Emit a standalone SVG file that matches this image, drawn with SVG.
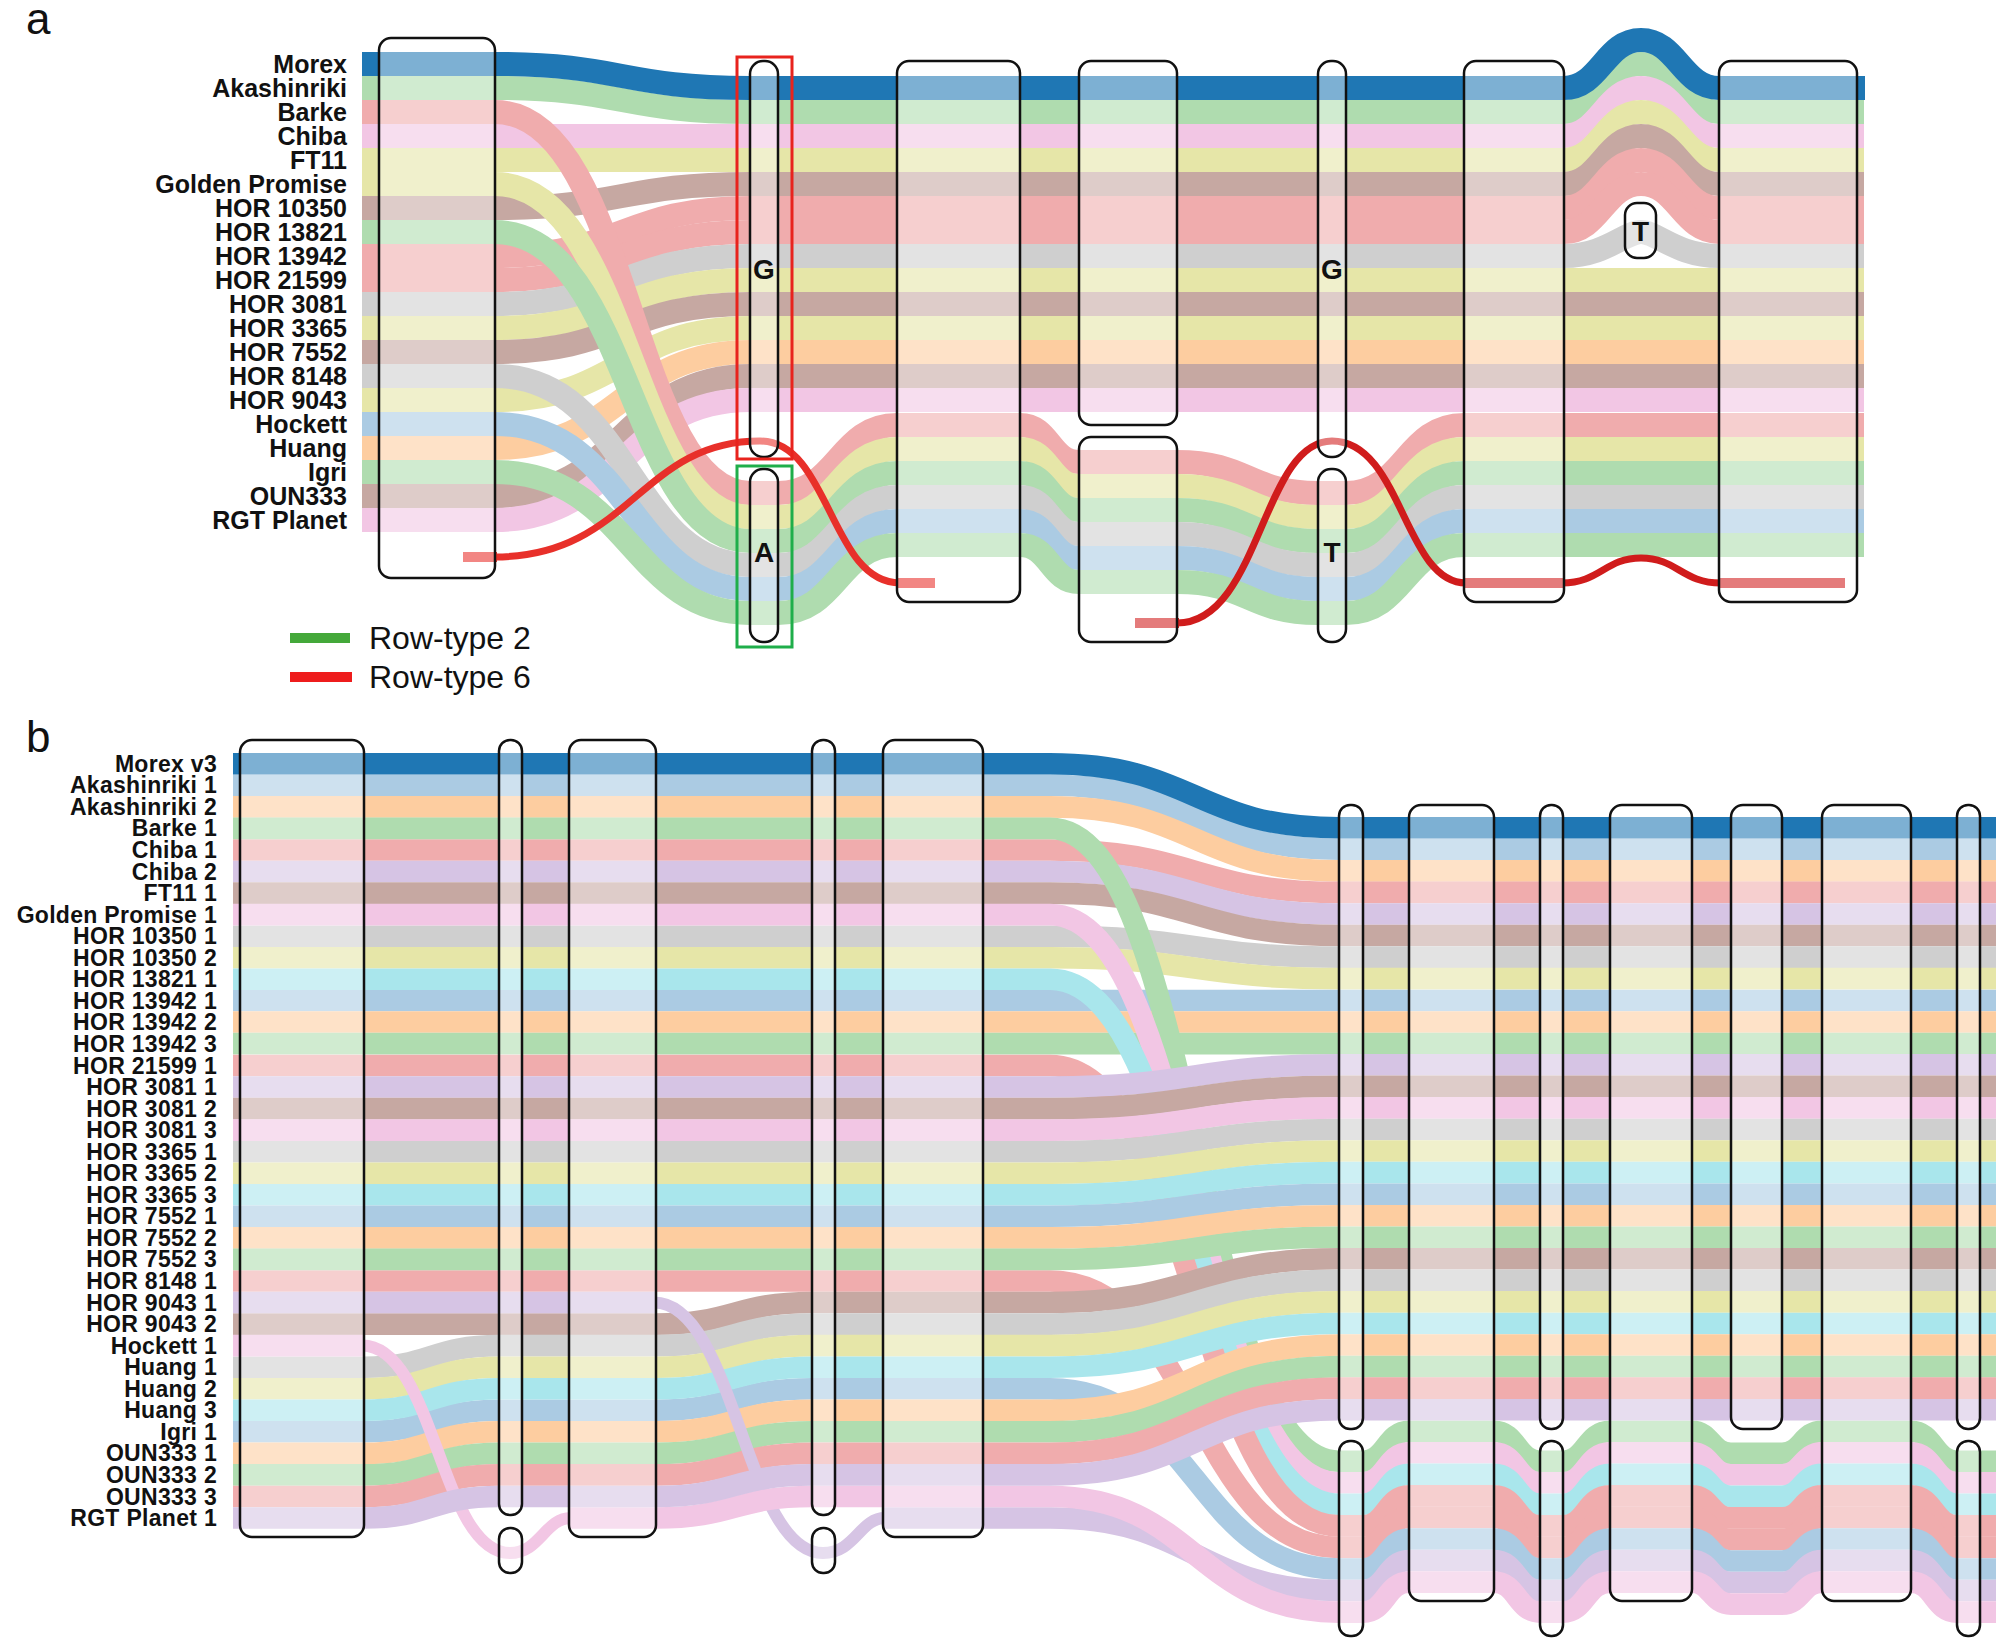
<svg xmlns="http://www.w3.org/2000/svg" width="2000" height="1645" viewBox="0 0 2000 1645">
<style>
.bd{fill:none;stroke-linecap:butt}
.wa{stroke-width:24}
.wb{stroke-width:21.6}
.th{stroke-width:12}
.box{fill:#fff;fill-opacity:.42;stroke:#111;stroke-width:2.5}
.lbl{font-family:"Liberation Sans",Arial,sans-serif;font-weight:bold;text-anchor:end;fill:#111}
.let{font-family:"Liberation Sans",Arial,sans-serif;font-weight:bold;text-anchor:middle;font-size:28px;fill:#111}
.pan{font-family:"Liberation Sans",Arial,sans-serif;font-size:44px;fill:#111}
.leg{font-family:"Liberation Sans",Arial,sans-serif;font-size:32px;fill:#111}
.c0{stroke:#1f77b4}.lb{stroke:#abcbe3}.or{stroke:#fdcda0}.gr{stroke:#afdcaf}.rd{stroke:#f0acad}.pu{stroke:#d6c4e4}.br{stroke:#c6a8a2}.pk{stroke:#f2c6e4}.gy{stroke:#cfcfcf}.ol{stroke:#e6e6a8}.cy{stroke:#a9e6ec}
.rl{fill:none;stroke-linecap:butt}
</style>
<rect x="0" y="0" width="2000" height="1645" fill="#fff"/>

<!-- ================= PANEL A ================= -->
<text class="pan" x="26" y="34">a</text>

<g id="a-connectors">
<path class="bd wa gr" d="M362,88 L495,88 C622,88 622,112 750,112 L1564,112 C1600,112 1605,64 1641,64 C1677,64 1682,112 1719,112 L1864,112"/>
<path class="bd wa pk" d="M362,136 L1564,136 C1600,136 1605,88 1641,88 C1677,88 1682,136 1719,136 L1864,136"/>
<path class="bd wa ol" d="M362,160 L1564,160 C1600,160 1605,112 1641,112 C1677,112 1682,160 1719,160 L1864,160"/>
<path class="bd wa br" d="M362,208 L495,208 C622,208 622,184 750,184 L1564,184 C1600,184 1605,136 1641,136 C1677,136 1682,184 1719,184 L1864,184"/>
<path class="bd wa rd" d="M362,256 L495,256 C622,256 622,208 750,208 L1564,208 C1600,208 1605,160 1641,160 C1677,160 1682,208 1719,208 L1864,208"/>
<path class="bd wa rd" d="M362,280 L495,280 C622,280 622,232 750,232 L1564,232 C1600,232 1605,184 1641,184 C1677,184 1682,232 1719,232 L1864,232"/>
<path class="bd wa gy" d="M362,304 L495,304 C622,304 622,256 750,256 L1564,256 C1605,256 1625,232 1641,232 C1657,232 1677,256 1719,256 L1864,256"/>
<path class="bd wa ol" d="M362,328 L495,328 C622,328 622,280 750,280 L1864,280"/>
<path class="bd wa br" d="M362,352 L495,352 C622,352 622,304 750,304 L1864,304"/>
<path class="bd wa ol" d="M362,400 L495,400 C622,400 622,328 750,328 L1864,328"/>
<path class="bd wa or" d="M362,448 L495,448 C622,448 622,352 750,352 L1864,352"/>
<path class="bd wa br" d="M362,496 L495,496 C622,496 622,376 750,376 L1864,376"/>
<path class="bd wa pk" d="M362,520 L495,520 C622,520 622,400 750,400 L1864,400"/>
<path class="bd wa rd" d="M362,112 L495,112 C630,112 630,493 750,493 L778,493 C838,493 838,425 897,425 L1020,425 C1050,425 1050,462 1079,462 L1177,462 C1248,462 1248,493 1318,493 L1346,493 C1405,493 1405,425 1464,425 L1864,425"/>
<path class="bd wa ol" d="M362,184 L495,184 C630,184 630,517 750,517 L778,517 C838,517 838,449 897,449 L1020,449 C1050,449 1050,486 1079,486 L1177,486 C1248,486 1248,517 1318,517 L1346,517 C1405,517 1405,449 1464,449 L1864,449"/>
<path class="bd wa gr" d="M362,232 L495,232 C630,232 630,541 750,541 L778,541 C838,541 838,473 897,473 L1020,473 C1050,473 1050,510 1079,510 L1177,510 C1248,510 1248,541 1318,541 L1346,541 C1405,541 1405,473 1464,473 L1864,473"/>
<path class="bd wa gy" d="M362,376 L495,376 C630,376 630,565 750,565 L778,565 C838,565 838,497 897,497 L1020,497 C1050,497 1050,534 1079,534 L1177,534 C1248,534 1248,565 1318,565 L1346,565 C1405,565 1405,497 1464,497 L1864,497"/>
<path class="bd wa lb" d="M362,424 L495,424 C630,424 630,589 750,589 L778,589 C838,589 838,521 897,521 L1020,521 C1050,521 1050,558 1079,558 L1177,558 C1248,558 1248,589 1318,589 L1346,589 C1405,589 1405,521 1464,521 L1864,521"/>
<path class="bd wa gr" d="M362,472 L495,472 C630,472 630,613 750,613 L778,613 C838,613 838,545 897,545 L1020,545 C1050,545 1050,582 1079,582 L1177,582 C1248,582 1248,613 1318,613 L1346,613 C1405,613 1405,545 1464,545 L1864,545"/>
<path class="bd wa c0" d="M362,64 L495,64 C622,64 622,88 750,88 L1564,88 C1600,88 1605,40 1641,40 C1677,40 1682,88 1719,88 L1865,88"/>
<!-- row-type 6 path -->
<path class="rl" stroke="#e8302a" stroke-width="10" d="M463,557 L497,557"/>
<path class="rl" stroke="#e8302a" stroke-width="7" d="M495,557 C630,557 640,441 760,441 C830,441 830,583 900,583"/>
<path class="rl" stroke="#e8302a" stroke-width="10" d="M897,583 L935,583"/>
<path class="rl" stroke="#d01c1c" stroke-width="10" d="M1135,623 L1179,623"/>
<path class="rl" stroke="#d01c1c" stroke-width="7" d="M1177,623 C1260,623 1262,441 1332,441 C1402,441 1404,583 1466,583"/>
<path class="rl" stroke="#d01c1c" stroke-width="10" d="M1464,583 L1564,583"/>
<path class="rl" stroke="#d01c1c" stroke-width="7" d="M1562,583 C1600,583 1605,558 1641,558 C1677,558 1682,583 1721,583"/>
<path class="rl" stroke="#d01c1c" stroke-width="10" d="M1719,583 L1845,583"/>
</g>

<g id="a-n1"><rect class="box" x="379" y="38" width="116" height="540" rx="12"/></g>
<g id="a-n2G"><rect class="box" x="750" y="61" width="28" height="396" rx="13"/><text class="let" x="764" y="279">G</text></g>
<g id="a-n2A"><rect class="box" x="750" y="469" width="28" height="173" rx="13"/><text class="let" x="764" y="562">A</text></g>
<g id="a-n3"><rect class="box" x="897" y="61" width="123" height="541" rx="12"/></g>
<g id="a-n4top"><rect class="box" x="1079" y="61" width="98" height="364" rx="12"/></g>
<g id="a-n4bot"><rect class="box" x="1079" y="437" width="98" height="205" rx="12"/></g>
<g id="a-n5G"><rect class="box" x="1318" y="61" width="28" height="396" rx="13"/><text class="let" x="1332" y="279">G</text></g>
<g id="a-n5T"><rect class="box" x="1318" y="469" width="28" height="173" rx="13"/><text class="let" x="1332" y="562">T</text></g>
<g id="a-n6"><rect class="box" x="1464" y="61" width="100" height="541" rx="12"/></g>
<g id="a-n7T"><rect class="box" x="1625" y="203" width="31" height="55" rx="12"/><text class="let" x="1640.5" y="241">T</text></g>
<g id="a-n8"><rect class="box" x="1719" y="61" width="138" height="541" rx="12"/></g>

<g id="a-highlights">
<rect x="737" y="57" width="55" height="402" fill="none" stroke="#e8231d" stroke-width="3"/>
<rect x="737" y="466" width="55" height="181" fill="none" stroke="#1fae4a" stroke-width="3"/>
</g>

<g id="a-labels" class="lbl" font-size="25">
<text x="347" y="73">Morex</text>
<text x="347" y="97">Akashinriki</text>
<text x="347" y="121">Barke</text>
<text x="347" y="145">Chiba</text>
<text x="347" y="169">FT11</text>
<text x="347" y="193">Golden Promise</text>
<text x="347" y="217">HOR 10350</text>
<text x="347" y="241">HOR 13821</text>
<text x="347" y="265">HOR 13942</text>
<text x="347" y="289">HOR 21599</text>
<text x="347" y="313">HOR 3081</text>
<text x="347" y="337">HOR 3365</text>
<text x="347" y="361">HOR 7552</text>
<text x="347" y="385">HOR 8148</text>
<text x="347" y="409">HOR 9043</text>
<text x="347" y="433">Hockett</text>
<text x="347" y="457">Huang</text>
<text x="347" y="481">Igri</text>
<text x="347" y="505">OUN333</text>
<text x="347" y="529">RGT Planet</text>
</g>

<g id="a-legend">
<line x1="290" y1="638" x2="350" y2="638" stroke="#44a83a" stroke-width="10"/>
<text class="leg" x="369" y="649">Row-type 2</text>
<line x1="290" y1="677" x2="352" y2="677" stroke="#ee1c1c" stroke-width="10"/>
<text class="leg" x="369" y="688">Row-type 6</text>
</g>

<!-- ================= PANEL B ================= -->
<text class="pan" x="26" y="752">b</text>

<g id="b-connectors">
<!-- upper rows, drawn below the crossing tracks -->
<path class="bd wb lb" d="M233,785.3 L1050,785.3 C1195,785.3 1195,849.3 1339,849.3 L1996,849.3"/>
<path class="bd wb or" d="M233,806.9 L1050,806.9 C1195,806.9 1195,870.9 1339,870.9 L1996,870.9"/>
<path class="bd wb rd" d="M233,850 L1050,850 C1195,850 1195,892.4 1339,892.4 L1996,892.4"/>
<path class="bd wb pu" d="M233,871.5 L1050,871.5 C1195,871.5 1195,914 1339,914 L1996,914"/>
<path class="bd wb br" d="M233,893.1 L1050,893.1 C1195,893.1 1195,935.5 1339,935.5 L1996,935.5"/>
<path class="bd wb gy" d="M233,936.2 L1050,936.2 C1195,936.2 1195,957.1 1339,957.1 L1996,957.1"/>
<path class="bd wb ol" d="M233,957.7 L1050,957.7 C1195,957.7 1195,978.6 1339,978.6 L1996,978.6"/>
<path class="bd wb lb" d="M233,1000.5 L1996,1000.5"/>
<path class="bd wb or" d="M233,1022 L1996,1022"/>
<path class="bd wb gr" d="M233,1043.6 L1996,1043.6"/>
<!-- tracks moving to the lower group -->
<path class="bd wb gr" d="M233,828.4 L1050,828.4 C1195,828.4 1195,1461.2 1339,1461.2 L1363,1461.2 C1386,1461.2 1386,1431.2 1409,1431.2 L1494,1431.2 C1517,1431.2 1517,1461.2 1540,1461.2 L1563,1461.2 C1586,1461.2 1586,1431.2 1610,1431.2 L1692,1431.2 C1711,1431.2 1711,1453.2 1731,1453.2 L1782,1453.2 C1802,1453.2 1802,1431.2 1822,1431.2 L1911,1431.2 C1934,1431.2 1934,1461.2 1957,1461.2 L1996,1461.2"/>
<path class="bd wb pk" d="M233,914.6 L1050,914.6 C1195,914.6 1195,1482.8 1339,1482.8 L1363,1482.8 C1386,1482.8 1386,1452.8 1409,1452.8 L1494,1452.8 C1517,1452.8 1517,1482.8 1540,1482.8 L1563,1482.8 C1586,1482.8 1586,1452.8 1610,1452.8 L1692,1452.8 C1711,1452.8 1711,1474.8 1731,1474.8 L1782,1474.8 C1802,1474.8 1802,1452.8 1822,1452.8 L1911,1452.8 C1934,1452.8 1934,1482.8 1957,1482.8 L1996,1482.8"/>
<path class="bd wb cy" d="M233,979.3 L1050,979.3 C1195,979.3 1195,1504.3 1339,1504.3 L1363,1504.3 C1386,1504.3 1386,1474.3 1409,1474.3 L1494,1474.3 C1517,1474.3 1517,1504.3 1540,1504.3 L1563,1504.3 C1586,1504.3 1586,1474.3 1610,1474.3 L1692,1474.3 C1711,1474.3 1711,1496.3 1731,1496.3 L1782,1496.3 C1802,1496.3 1802,1474.3 1822,1474.3 L1911,1474.3 C1934,1474.3 1934,1504.3 1957,1504.3 L1996,1504.3"/>
<path class="bd wb rd" d="M233,1065.5 L1050,1065.5 C1195,1065.5 1195,1525.9 1339,1525.9 L1363,1525.9 C1386,1525.9 1386,1495.9 1409,1495.9 L1494,1495.9 C1517,1495.9 1517,1525.9 1540,1525.9 L1563,1525.9 C1586,1525.9 1586,1495.9 1610,1495.9 L1692,1495.9 C1711,1495.9 1711,1517.9 1731,1517.9 L1782,1517.9 C1802,1517.9 1802,1495.9 1822,1495.9 L1911,1495.9 C1934,1495.9 1934,1525.9 1957,1525.9 L1996,1525.9"/>
<path class="bd wb rd" d="M233,1281 L1050,1281 C1195,1281 1195,1547.4 1339,1547.4 L1363,1547.4 C1386,1547.4 1386,1517.4 1409,1517.4 L1494,1517.4 C1517,1517.4 1517,1547.4 1540,1547.4 L1563,1547.4 C1586,1547.4 1586,1517.4 1610,1517.4 L1692,1517.4 C1711,1517.4 1711,1539.4 1731,1539.4 L1782,1539.4 C1802,1539.4 1802,1517.4 1822,1517.4 L1911,1517.4 C1934,1517.4 1934,1547.4 1957,1547.4 L1996,1547.4"/>
<path class="bd wb lb" d="M233,1431.8 L364,1431.8 C431,1431.8 431,1410.3 499,1410.3 L656,1410.3 C734,1410.3 734,1388.7 812,1388.7 L1050,1388.7 C1195,1388.7 1195,1569 1339,1569 L1363,1569 C1386,1569 1386,1539 1409,1539 L1494,1539 C1517,1539 1517,1569 1540,1569 L1563,1569 C1586,1569 1586,1539 1610,1539 L1692,1539 C1711,1539 1711,1561 1731,1561 L1782,1561 C1802,1561 1802,1539 1822,1539 L1911,1539 C1934,1539 1934,1569 1957,1569 L1996,1569"/>
<!-- lower rows, drawn above -->
<path class="bd wb pu" d="M233,1087 L1050,1087 C1195,1087 1195,1064.8 1339,1064.8 L1996,1064.8"/>
<path class="bd wb br" d="M233,1108.6 L1050,1108.6 C1195,1108.6 1195,1086.4 1339,1086.4 L1996,1086.4"/>
<path class="bd wb pk" d="M233,1130.1 L1050,1130.1 C1195,1130.1 1195,1107.9 1339,1107.9 L1996,1107.9"/>
<path class="bd wb gy" d="M233,1151.7 L1050,1151.7 C1195,1151.7 1195,1129.5 1339,1129.5 L1996,1129.5"/>
<path class="bd wb ol" d="M233,1173.2 L1050,1173.2 C1195,1173.2 1195,1151 1339,1151 L1996,1151"/>
<path class="bd wb cy" d="M233,1194.8 L1050,1194.8 C1195,1194.8 1195,1172.6 1339,1172.6 L1996,1172.6"/>
<path class="bd wb lb" d="M233,1216.3 L1050,1216.3 C1195,1216.3 1195,1194.2 1339,1194.2 L1996,1194.2"/>
<path class="bd wb or" d="M233,1237.9 L1050,1237.9 C1195,1237.9 1195,1215.7 1339,1215.7 L1996,1215.7"/>
<path class="bd wb gr" d="M233,1259.4 L1050,1259.4 C1195,1259.4 1195,1237.3 1339,1237.3 L1996,1237.3"/>
<path class="bd wb br" d="M233,1324.1 L656,1324.1 C734,1324.1 734,1302.5 812,1302.5 L1050,1302.5 C1195,1302.5 1195,1258.8 1339,1258.8 L1996,1258.8"/>
<path class="bd wb gy" d="M233,1367.2 L364,1367.2 C431,1367.2 431,1345.6 499,1345.6 L656,1345.6 C734,1345.6 734,1324.1 812,1324.1 L1050,1324.1 C1195,1324.1 1195,1280.4 1339,1280.4 L1996,1280.4"/>
<path class="bd wb ol" d="M233,1388.7 L364,1388.7 C431,1388.7 431,1367.2 499,1367.2 L656,1367.2 C734,1367.2 734,1345.6 812,1345.6 L1050,1345.6 C1195,1345.6 1195,1301.9 1339,1301.9 L1996,1301.9"/>
<path class="bd wb cy" d="M233,1410.3 L364,1410.3 C431,1410.3 431,1388.7 499,1388.7 L656,1388.7 C734,1388.7 734,1367.2 812,1367.2 L1050,1367.2 C1195,1367.2 1195,1323.5 1339,1323.5 L1996,1323.5"/>
<path class="bd wb or" d="M233,1453.4 L364,1453.4 C431,1453.4 431,1431.8 499,1431.8 L656,1431.8 C734,1431.8 734,1410.3 812,1410.3 L1050,1410.3 C1195,1410.3 1195,1345 1339,1345 L1996,1345"/>
<path class="bd wb gr" d="M233,1474.9 L364,1474.9 C431,1474.9 431,1453.4 499,1453.4 L656,1453.4 C734,1453.4 734,1431.8 812,1431.8 L1050,1431.8 C1195,1431.8 1195,1366.6 1339,1366.6 L1996,1366.6"/>
<path class="bd wb rd" d="M233,1496.5 L364,1496.5 C431,1496.5 431,1474.9 499,1474.9 L656,1474.9 C734,1474.9 734,1453.4 812,1453.4 L1050,1453.4 C1195,1453.4 1195,1388.1 1339,1388.1 L1996,1388.1"/>
<path class="bd wb pu" d="M233,1302.5 L656,1302.5"/>
<path class="bd wb pk" d="M233,1345.6 L364,1345.6"/>
<!-- dips through the small lower nodes -->
<path class="bd th pk" d="M362,1345.6 C435,1345.6 440,1553 510,1553 C540,1553 545,1518 571,1518"/>
<path class="bd th pu" d="M654,1302.5 C735,1302.5 745,1553 823,1553 C855,1553 860,1518 885,1518"/>
<path class="bd wb pu" d="M883,1518 L1050,1518 C1195,1518 1195,1590.5 1339,1590.5 L1363,1590.5 C1386,1590.5 1386,1560.5 1409,1560.5 L1494,1560.5 C1517,1560.5 1517,1590.5 1540,1590.5 L1563,1590.5 C1586,1590.5 1586,1560.5 1610,1560.5 L1692,1560.5 C1711,1560.5 1711,1582.5 1731,1582.5 L1782,1582.5 C1802,1582.5 1802,1560.5 1822,1560.5 L1911,1560.5 C1934,1560.5 1934,1590.5 1957,1590.5 L1996,1590.5"/>
<path class="bd wb pk" d="M569,1518 L656,1518 C734,1518 734,1496.5 812,1496.5 L1050,1496.5 C1195,1496.5 1195,1612.1 1339,1612.1 L1363,1612.1 C1386,1612.1 1386,1582.1 1409,1582.1 L1494,1582.1 C1517,1582.1 1517,1612.1 1540,1612.1 L1563,1612.1 C1586,1612.1 1586,1582.1 1610,1582.1 L1692,1582.1 C1711,1582.1 1711,1604.1 1731,1604.1 L1782,1604.1 C1802,1604.1 1802,1582.1 1822,1582.1 L1911,1582.1 C1934,1582.1 1934,1612.1 1957,1612.1 L1996,1612.1"/>
<path class="bd wb pu" d="M233,1518 L364,1518 C431,1518 431,1496.5 499,1496.5 L656,1496.5 C734,1496.5 734,1474.9 812,1474.9 L1050,1474.9 C1195,1474.9 1195,1409.7 1339,1409.7 L1996,1409.7"/>
<path class="bd wb c0" d="M233,763.8 L1050,763.8 C1195,763.8 1195,827.8 1339,827.8 L1996,827.8"/>
</g>

<g id="b-n1"><rect class="box" x="240" y="740" width="124" height="797" rx="12"/></g>
<g id="b-n2"><rect class="box" x="499" y="740" width="23" height="775" rx="11"/></g>
<g id="b-n2low"><rect class="box" x="499" y="1528" width="23" height="45" rx="11"/></g>
<g id="b-n3"><rect class="box" x="569" y="740" width="87" height="797" rx="12"/></g>
<g id="b-n4"><rect class="box" x="812" y="740" width="23" height="775" rx="11"/></g>
<g id="b-n4low"><rect class="box" x="812" y="1528" width="23" height="45" rx="11"/></g>
<g id="b-n5"><rect class="box" x="883" y="740" width="100" height="797" rx="12"/></g>
<g id="b-n6"><rect class="box" x="1339" y="805" width="24" height="624" rx="11"/></g>
<g id="b-n6low"><rect class="box" x="1339" y="1441" width="24" height="195" rx="11"/></g>
<g id="b-n7"><rect class="box" x="1409" y="805" width="85" height="796" rx="12"/></g>
<g id="b-n8"><rect class="box" x="1540" y="805" width="23" height="624" rx="11"/></g>
<g id="b-n8low"><rect class="box" x="1540" y="1441" width="23" height="195" rx="11"/></g>
<g id="b-n9"><rect class="box" x="1610" y="805" width="82" height="796" rx="12"/></g>
<g id="b-n10"><rect class="box" x="1731" y="805" width="51" height="624" rx="12"/></g>
<g id="b-n11"><rect class="box" x="1822" y="805" width="89" height="796" rx="12"/></g>
<g id="b-n12"><rect class="box" x="1957" y="805" width="23" height="624" rx="11"/></g>
<g id="b-n12low"><rect class="box" x="1957" y="1441" width="23" height="195" rx="11"/></g>

<g id="b-labels" class="lbl" font-size="23" letter-spacing="0.3">
<text x="217" y="771.8">Morex v3</text>
<text x="217" y="793.3">Akashinriki 1</text>
<text x="217" y="814.9">Akashinriki 2</text>
<text x="217" y="836.4">Barke 1</text>
<text x="217" y="858">Chiba 1</text>
<text x="217" y="879.5">Chiba 2</text>
<text x="217" y="901.1">FT11 1</text>
<text x="217" y="922.6">Golden Promise 1</text>
<text x="217" y="944.2">HOR 10350 1</text>
<text x="217" y="965.7">HOR 10350 2</text>
<text x="217" y="987.3">HOR 13821 1</text>
<text x="217" y="1008.8">HOR 13942 1</text>
<text x="217" y="1030.4">HOR 13942 2</text>
<text x="217" y="1051.9">HOR 13942 3</text>
<text x="217" y="1073.5">HOR 21599 1</text>
<text x="217" y="1095">HOR 3081 1</text>
<text x="217" y="1116.6">HOR 3081 2</text>
<text x="217" y="1138.1">HOR 3081 3</text>
<text x="217" y="1159.7">HOR 3365 1</text>
<text x="217" y="1181.2">HOR 3365 2</text>
<text x="217" y="1202.8">HOR 3365 3</text>
<text x="217" y="1224.3">HOR 7552 1</text>
<text x="217" y="1245.9">HOR 7552 2</text>
<text x="217" y="1267.4">HOR 7552 3</text>
<text x="217" y="1289">HOR 8148 1</text>
<text x="217" y="1310.5">HOR 9043 1</text>
<text x="217" y="1332.1">HOR 9043 2</text>
<text x="217" y="1353.6">Hockett 1</text>
<text x="217" y="1375.2">Huang 1</text>
<text x="217" y="1396.7">Huang 2</text>
<text x="217" y="1418.3">Huang 3</text>
<text x="217" y="1439.8">Igri 1</text>
<text x="217" y="1461.4">OUN333 1</text>
<text x="217" y="1482.9">OUN333 2</text>
<text x="217" y="1504.5">OUN333 3</text>
<text x="217" y="1526">RGT Planet 1</text>
</g>
</svg>
